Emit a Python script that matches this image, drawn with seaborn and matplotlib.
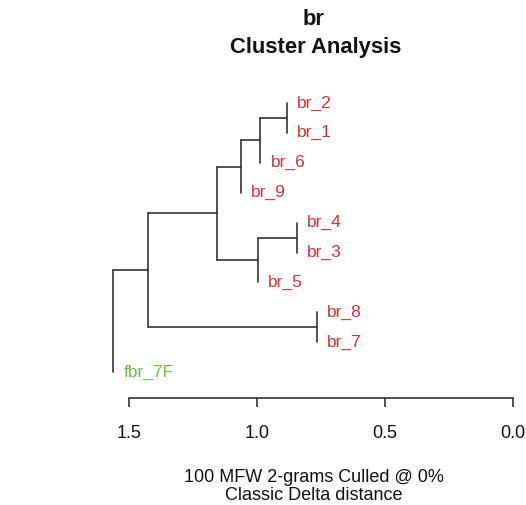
import matplotlib
matplotlib.use("Agg")
import matplotlib.pyplot as plt
import seaborn as sns
import pandas as pd

# ---- data ----
leaf_labels = ["br_2", "br_1", "br_6", "br_9", "br_4", "br_3", "br_5", "br_8", "br_7", "fbr_7F"]
leaf_groups = ["br", "br", "br", "br", "br", "br", "br", "br", "br", "fbr"]
# merges: (child_a, child_b, height); indices >= 10 refer to earlier merges
merge_a = [0, 10, 11, 4, 13, 12, 7, 15, 17]
merge_b = [1, 2, 3, 5, 6, 14, 8, 16, 9]
merge_h = [0.883, 0.988, 1.063, 0.844, 0.998, 1.156, 0.766, 1.426, 1.5625]
tick_values = [1.5, 1.0, 0.5, 0.0]
tick_labels = ["1.5", "1.0", "0.5", "0.0"]
title_lines = ["br", "Cluster Analysis"]
xlabel_lines = ["100 MFW 2-grams Culled @ 0%", "Classic Delta distance"]
group_colors = {"br": "#c9363f", "fbr": "#6cbf4a"}

# ---- build tree geometry ----
n = len(leaf_labels)
node_y = {i: float(i) for i in range(n)}
node_h = {}
parent_h = {}
for k, (a, b, h) in enumerate(zip(merge_a, merge_b, merge_h)):
    idx = n + k
    node_y[idx] = (node_y[a] + node_y[b]) / 2
    node_h[idx] = h
    parent_h[a] = h
    parent_h[b] = h

rows = []
seg = 0
for k, (a, b, h) in enumerate(zip(merge_a, merge_b, merge_h)):
    idx = n + k
    # vertical segment
    rows.append((seg, h, node_y[a])); rows.append((seg, h, node_y[b])); seg += 1
    # horizontal edge to parent
    if idx in parent_h:
        rows.append((seg, parent_h[idx], node_y[idx])); rows.append((seg, h, node_y[idx])); seg += 1
df = pd.DataFrame(rows, columns=["seg", "x", "y"])

sns.set_theme(style="white")
plt.rcParams["font.family"] = ["Liberation Sans", "DejaVu Sans"]

fig = plt.figure(figsize=(5.26, 5.05), dpi=100)
ax = fig.add_axes([0.17224, 0.21188, 0.81765, 0.6099])

sns.lineplot(data=df, x="x", y="y", units="seg", estimator=None, sort=False,
             color="#333333", linewidth=1.2, ax=ax, legend=False)

for i, lab in enumerate(leaf_labels):
    ax.annotate(lab, xy=(parent_h[i], node_y[i]), xytext=(7.5, 0), textcoords="offset points",
                ha="left", va="center", fontsize=12.5, color=group_colors[leaf_groups[i]])

ax.set_xlim(1.65, -0.03)
ax.set_ylim(9.866, -0.435)
for s in ["left", "top", "right"]:
    ax.spines[s].set_visible(False)
ax.spines["bottom"].set_bounds(0, 1.5)
ax.spines["bottom"].set_color("#333333")
ax.spines["bottom"].set_linewidth(1.2)
ax.set_xticks(tick_values)
ax.set_xticklabels(tick_labels, fontsize=13)
ax.set_yticks([])
ax.tick_params(axis="x", bottom=True, direction="out", length=6.5, width=1.2,
               color="#333333", pad=13, labelcolor="#111111")
ax.set_xlabel("")
ax.set_ylabel("")

fig.text(314 / 526, 1 - 25 / 505, title_lines[0], ha="center", va="baseline",
         fontsize=15.8, fontweight="bold", color="#111111")
fig.text(316 / 526, 1 - 53 / 505, title_lines[1], ha="center", va="baseline",
         fontsize=15.8, fontweight="bold", color="#111111")
fig.text(314 / 526, 1 - 482 / 505, xlabel_lines[0], ha="center", va="baseline",
         fontsize=13, color="#111111")
fig.text(314 / 526, 1 - 500 / 505, xlabel_lines[1], ha="center", va="baseline",
         fontsize=13, color="#111111")

fig.savefig("out.png", dpi=100)
